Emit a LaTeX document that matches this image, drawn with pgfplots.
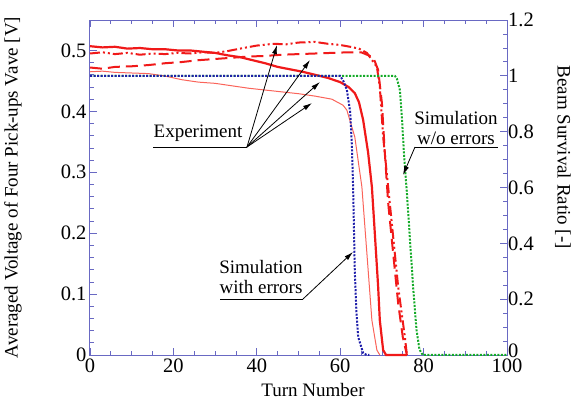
\documentclass[border=0pt]{standalone}
\usepackage{pgfplots}
\pgfplotsset{compat=1.18}
\usepackage{fontspec}
\setmainfont{Liberation Serif}
\usetikzlibrary{arrows.meta}
\definecolor{axc}{RGB}{105,105,195}
\definecolor{rred}{RGB}{240,25,25}
\definecolor{lred}{RGB}{250,100,90}
\definecolor{sgreen}{RGB}{20,170,40}
\definecolor{sblue}{RGB}{30,30,170}
\begin{document}
\begin{tikzpicture}[font=\fontsize{19}{20}\selectfont]
\useasboundingbox (-90pt,-44pt) rectangle (491pt,355pt);
\pgfplotsset{
 common/.style={scale only axis, width=417pt, height=335pt, xmin=0, xmax=100,
  axis line style={axc, line width=1pt},
  every tick/.style={axc, line width=0.8pt},
  major tick length=7pt, minor tick length=4pt,
  tick align=inside,
  /pgf/number format/assume math mode=true,
  tick label style={font=\fontsize{20.5}{22}\selectfont, black},
  label style={font=\fontsize{19.5}{20}\selectfont},
  clip=false},
}
\begin{axis}[common, ymin=0, ymax=0.55,
  ytick={0,0.1,0.2,0.3,0.4,0.5}, minor y tick num=4,
  xtick={0,20,40,60,80,100}, minor x tick num=3,
  xtick pos=both, ytick pos=left,
  xticklabel style={yshift=-3pt, inner sep=1pt},
  xlabel={Turn Number},
  ylabel={Averaged Voltage of Four Pick-ups Vave [V]},
  every axis x label/.style={at={(axis description cs:0.535,-0.1224)}, anchor=base},
  every axis y label/.style={at={(axis description cs:-0.1847,0.5)}, rotate=90, anchor=center},
  ]
% thick solid
\addplot[rred, line width=2.2pt] coordinates {
(0,0.507) (3,0.505) (6,0.506) (9,0.503) (12,0.504) (15,0.502) (18,0.502) (21,0.500)
(24,0.500) (27,0.498) (30,0.496) (33,0.492) (36,0.489) (39,0.484) (42,0.479) (45,0.473)
(48,0.469) (51,0.465) (54,0.460) (57,0.455) (60,0.448) (62,0.440) (63.5,0.430) (64.5,0.415)
(65.5,0.386) (66.7,0.332) (67.6,0.276) (68.3,0.200) (69.1,0.112) (69.5,0.057) (70.3,0.008)
(71,0) (76,0)};
% thin solid
\addplot[lred, line width=1pt] coordinates {
(0,0.465) (3,0.466) (6,0.464) (10,0.463) (14,0.462) (18,0.458) (22,0.452) (26,0.448)
(30,0.446) (34,0.442) (38,0.438) (42,0.435) (46,0.432) (50,0.429) (54,0.425) (58,0.420)
(60.7,0.410) (61.6,0.402) (63.5,0.358) (65.2,0.276) (66.4,0.167) (67.6,0.057) (68.8,0.008) (69.5,0)};
% dashed
\addplot[rred, line width=2pt, dash pattern=on 12pt off 6pt] coordinates {
(0,0.472) (3,0.470) (6,0.473) (10,0.474) (14,0.476) (18,0.479) (22,0.481) (26,0.484)
(30,0.486) (34,0.488) (38,0.490) (42,0.491) (46,0.493) (50,0.494) (54,0.495) (58,0.496)
(62,0.497) (65,0.497) (67.9,0.489) (69.1,0.468) (70,0.414) (70.7,0.332) (71.5,0.250)
(72.7,0.167) (73.9,0.085) (75,0.030) (76,0)};
% dash dot dot
\addplot[rred, line width=2pt, dash pattern=on 10pt off 3pt on 2pt off 3pt on 2pt off 3pt] coordinates {
(0,0.495) (3,0.497) (6,0.494) (9,0.496) (12,0.493) (15,0.495) (18,0.494) (21,0.496)
(24,0.495) (27,0.497) (30,0.496) (33,0.499) (36,0.503) (40,0.508) (44,0.511) (47,0.510)
(50,0.513) (54,0.514) (57,0.511) (60,0.509) (62.4,0.506) (64.5,0.503) (66.4,0.496)
(68.8,0.473) (69.5,0.440) (70.3,0.358) (71.5,0.276) (72.7,0.194) (73.9,0.112) (75.5,0.030) (76,0)};
\end{axis}
\begin{axis}[common, ymin=0, ymax=1.2,
  ytick={0,0.2,0.4,0.6,0.8,1,1.2}, minor y tick num=3,
  yticklabels={\smash{\raisebox{-2pt}{0}},0.2,0.4,0.6,0.8,1,1.2},
  hide x axis, axis y line*=right,
  yticklabel style={inner sep=1pt},
  ylabel={Beam Survival Ratio [-]},
  every axis y label/.style={at={(axis description cs:1.1343,0.59)}, rotate=-90, anchor=center},
  ]
\addplot[sgreen, line width=2pt, dash pattern=on 2pt off 1.5pt] coordinates {
(0,1) (73.1,1) (73.6,0.99) (74.3,0.95) (74.8,0.85) (75.3,0.72) (76,0.58) (76.7,0.42)
(77.5,0.24) (78.3,0.09) (79,0.02) (79.8,0) (100,0)};
\addplot[sblue, line width=2pt, dash pattern=on 2pt off 1.5pt] coordinates {
(0,1) (60,1) (60.8,0.98) (61.6,0.95) (62.4,0.87) (62.8,0.75) (63.1,0.60) (63.3,0.45)
(63.5,0.30) (63.9,0.15) (64.3,0.065) (65.5,0.007) (66.4,0) (67,0)};
\end{axis}
% annotations
\begin{scope}[x=1pt, y=1pt, line width=0.8pt, >={Latex[length=9pt,width=5pt]}]
\node at (108,222) {Experiment};
\draw (63,208) -- (157,208);
\draw[->] (157,208) -- (187,310);
\draw[->] (157,208) -- (220,295);
\draw[->] (157,208) -- (230,273);
\draw[->] (157,208) -- (222,252);
\node at (366,237) {Simulation};
\node at (366,217) {w/o errors};
\draw (325,208) -- (408,208);
\draw[->] (325,208) -- (313,180);
\node at (171,88) {Simulation};
\node at (171,68) {with errors};
\draw (130,56) -- (213,56);
\draw[->] (213,56) -- (263,103);
\end{scope}
\end{tikzpicture}
\end{document}
